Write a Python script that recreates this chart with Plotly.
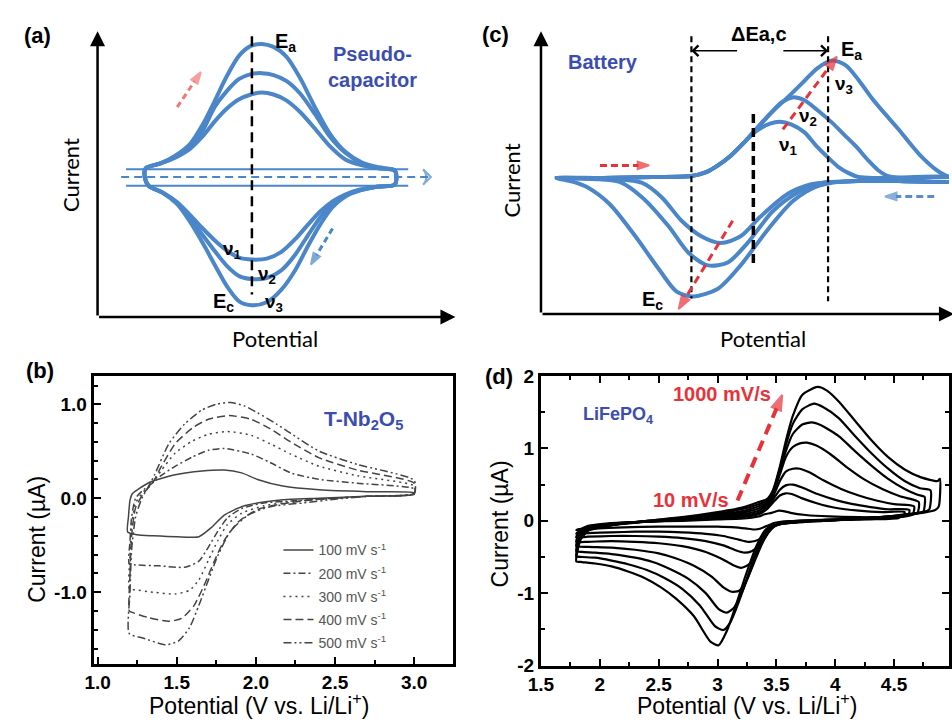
import plotly.graph_objects as go

W, H = 952, 727
def PX(px): return px / W
def PY(py): return 1 - py / H

BLUE = '#4a86c8'
TXTBLUE = '#3b4db0'
RED = '#e8323a'
PINK = '#f07878'
GREY = '#444444'
SANS = 'Liberation Sans, Arial, sans-serif'
CAL = 'Lato, Open Sans, sans-serif'

# ---------------- (a) pseudocapacitor schematic (arbitrary units) ----------------
a_up_x = [49, 64, 79, 94, 107, 119, 131, 144, 156, 167, 179, 192, 206, 221, 236, 252, 269, 286, 302]
a_up_nu3 = [9, 14, 22, 34, 54, 78, 103, 125, 135, 137, 134, 124, 102, 72, 45, 26, 15, 10, 7]
a_up_nu2 = [9, 14, 21, 31, 48, 72, 88, 101, 106, 107, 105, 99, 86, 65, 42, 25, 14, 9, 7]
a_up_nu1 = [9, 14, 20, 29, 42, 57, 70, 80, 85, 87, 85, 79, 67, 50, 32, 18, 12, 9, 7]
a_lo_x = [304, 302, 284, 266, 252, 239, 227, 214, 201, 187, 172, 157, 144, 132, 119, 107, 94, 81, 66, 52, 48]
a_lo_nu3 = [0, -8, -10, -14, -20, -31, -48, -71, -96, -116, -129, -132, -128, -113, -90, -68, -46, -28, -16, -9, 0]
a_lo_nu2 = [0, -8, -10, -14, -19, -28, -41, -60, -80, -96, -104, -105, -102, -92, -76, -60, -42, -27, -16, -9, 0]
a_lo_nu1 = [0, -8, -10, -13, -18, -25, -35, -49, -64, -77, -84, -85, -83, -76, -65, -53, -39, -26, -16, -9, 0]
a_rail_x = [29, 316]
a_rail_up = [8, 8]
a_rail_lo = [-9, -9]
a_sweep_x = [24, 339]
a_sweep_y = [0, 0]
a_peak_x = [157, 157]
a_peak_y = [145, -121]
a_red_x = [81, 105]
a_red_y = [72, 108]
a_blue_x = [239, 217]
a_blue_y = [-53, -90]

# ---------------- (c) battery schematic (arbitrary units) ----------------
c_an_base_x = [16, 63, 113, 153, 168, 180, 193, 206]
c_an_base_y = [0, 0, 1, 2, 6, 13, 23, 36]
c_an_nu1_x = [220, 233, 243, 255, 268, 280, 293, 303, 313, 323, 343, 423]
c_an_nu1_y = [49, 56, 58, 55, 47, 33, 20, 11, 5, 1, 0, 0]
c_an_nu2_x = [220, 233, 245, 256, 268, 281, 296, 308, 320, 333, 343, 353, 373, 423]
c_an_nu2_y = [51, 66, 78, 83, 80, 70, 57, 45, 33, 18, 8, 2, 0, 0]
c_an_nu3_x = [220, 236, 253, 268, 281, 296, 310, 323, 336, 350, 363, 375, 386, 400, 413, 423]
c_an_nu3_y = [52, 69, 85, 100, 113, 121, 116, 101, 83, 66, 51, 36, 23, 10, 2, 0]
c_ca_nu3_x = [423, 363, 323, 303, 280, 256, 230, 203, 180, 155, 138, 120, 96, 70, 48, 33, 16]
c_ca_nu3_y = [-3, -3, -3, -4, -9, -24, -54, -90, -114, -122, -117, -94, -60, -27, -10, -4, 0]
c_ca_nu2_x = [423, 363, 323, 303, 286, 263, 236, 210, 190, 170, 150, 130, 103, 80, 53, 16]
c_ca_nu2_y = [-3, -3, -3, -4, -5, -14, -34, -67, -87, -90, -77, -50, -20, -4, -1, 0]
c_ca_nu1_x = [423, 363, 323, 296, 273, 250, 223, 203, 183, 163, 143, 123, 103, 73, 16]
c_ca_nu1_y = [-3, -3, -3, -4, -7, -17, -40, -60, -67, -60, -44, -20, -5, -1, 0]
c_vline_x = [153, 292, 216]
c_vline_top = [146, 146, 66]
c_vline_bot = [-124, -127, -92]
c_red1_x = [246, 301]
c_red1_y = [50, 125]
c_red2_x = [195, 140]
c_red2_y = [-44, -135]
c_red3_x = [60, 110]
c_red3_y = [13, 13]
c_blue_x = [400, 350]
c_blue_y = [-19, -19]

# ---------------- (b) T-Nb2O5 CV ----------------
b_rates = ['100', '200', '300', '400', '500']
b_x_an_100 = [1.19, 1.195, 1.205, 1.22, 1.26, 1.33, 1.49, 1.66, 1.80, 1.91, 2.01, 2.17, 2.4, 2.7, 3.0]
b_y_an_100 = [-0.36, -0.2, -0.02, 0.05, 0.10, 0.17, 0.25, 0.29, 0.30, 0.27, 0.20, 0.13, 0.09, 0.07, 0.06]
b_x_ca_100 = [3.0, 2.7, 2.4, 2.22, 2.05, 1.91, 1.80, 1.72, 1.64, 1.5, 1.35, 1.25, 1.19]
b_y_ca_100 = [0.04, 0.02, 0.0, -0.01, -0.04, -0.09, -0.18, -0.31, -0.41, -0.41, -0.40, -0.39, -0.36]
b_x_an_200 = [1.20, 1.205, 1.215, 1.24, 1.29, 1.33, 1.36, 1.40, 1.49, 1.60, 1.70, 1.80, 1.97, 2.09, 2.22, 2.4, 2.64, 3.0]
b_y_an_200 = [-0.70, -0.45, -0.2, 0.0, 0.09, 0.14, 0.18, 0.24, 0.34, 0.44, 0.51, 0.53, 0.47, 0.38, 0.27, 0.20, 0.16, 0.10]
b_x_ca_200 = [3.0, 2.7, 2.4, 2.22, 2.05, 1.91, 1.82, 1.76, 1.70, 1.64, 1.55, 1.39, 1.24, 1.20]
b_y_ca_200 = [0.05, 0.02, -0.01, -0.03, -0.05, -0.11, -0.21, -0.35, -0.52, -0.67, -0.735, -0.72, -0.71, -0.70]
b_x_an_300 = [1.20, 1.205, 1.215, 1.24, 1.29, 1.33, 1.36, 1.40, 1.49, 1.60, 1.70, 1.82, 1.97, 2.09, 2.22, 2.4, 2.64, 3.0]
b_y_an_300 = [-0.96, -0.6, -0.3, -0.05, 0.07, 0.13, 0.19, 0.29, 0.48, 0.61, 0.68, 0.71, 0.67, 0.58, 0.47, 0.34, 0.24, 0.13]
b_x_ca_300 = [3.0, 2.7, 2.4, 2.22, 2.05, 1.91, 1.82, 1.76, 1.70, 1.64, 1.58, 1.49, 1.35, 1.22, 1.20]
b_y_ca_300 = [0.05, 0.02, -0.01, -0.04, -0.08, -0.16, -0.28, -0.45, -0.66, -0.87, -0.98, -1.02, -1.0, -0.97, -0.96]
b_x_an_400 = [1.20, 1.205, 1.215, 1.24, 1.29, 1.33, 1.36, 1.40, 1.49, 1.60, 1.70, 1.83, 1.97, 2.09, 2.22, 2.4, 2.64, 3.0]
b_y_an_400 = [-1.20, -0.8, -0.4, -0.1, 0.05, 0.13, 0.2, 0.33, 0.58, 0.75, 0.84, 0.88, 0.84, 0.74, 0.60, 0.43, 0.30, 0.16]
b_x_ca_400 = [3.0, 2.7, 2.4, 2.2, 2.01, 1.89, 1.80, 1.74, 1.68, 1.61, 1.53, 1.45, 1.32, 1.21, 1.20]
b_y_ca_400 = [0.05, 0.02, -0.01, -0.05, -0.12, -0.25, -0.45, -0.66, -0.90, -1.14, -1.28, -1.31, -1.27, -1.21, -1.20]
b_x_an_500 = [1.20, 1.205, 1.215, 1.24, 1.28, 1.32, 1.36, 1.45, 1.55, 1.66, 1.75, 1.84, 1.93, 2.01, 2.13, 2.22, 2.4, 2.64, 3.0]
b_y_an_500 = [-1.44, -1.0, -0.55, -0.2, 0.0, 0.12, 0.25, 0.58, 0.79, 0.94, 1.0, 1.02, 0.98, 0.91, 0.79, 0.69, 0.50, 0.36, 0.19]
b_x_ca_500 = [3.0, 2.7, 2.5, 2.3, 2.09, 1.95, 1.84, 1.76, 1.70, 1.64, 1.58, 1.51, 1.43, 1.29, 1.20]
b_y_ca_500 = [0.05, 0.02, -0.01, -0.05, -0.09, -0.18, -0.35, -0.61, -0.87, -1.14, -1.38, -1.52, -1.56, -1.49, -1.44]
b_xticks = [1.0, 1.5, 2.0, 2.5, 3.0]
b_xticktext = ['1.0', '1.5', '2.0', '2.5', '3.0']
b_yticks = [-1.0, 0.0, 1.0]
b_yticktext = ['-1.0', '0.0', '1.0']

# ---------------- (d) LiFePO4 CV (8 sweep rates, largest first) ----------------
d_an_x = [
    [1.80, 1.81, 1.84, 1.9, 2.1, 2.4, 2.7, 3.0, 3.2, 3.35, 3.42, 3.47, 3.53, 3.58, 3.64, 3.72, 3.85, 3.93, 4.03, 4.17, 4.31, 4.45, 4.59, 4.73, 4.87, 4.89],
    [1.80, 1.81, 1.84, 1.9, 2.1, 2.4, 2.7, 3.0, 3.2, 3.35, 3.42, 3.47, 3.53, 3.58, 3.64, 3.72, 3.82, 3.90, 4.03, 4.17, 4.31, 4.45, 4.59, 4.72, 4.81],
    [1.80, 1.81, 1.84, 1.9, 2.1, 2.4, 2.7, 3.0, 3.2, 3.35, 3.42, 3.47, 3.53, 3.58, 3.64, 3.72, 3.80, 3.88, 4.03, 4.17, 4.31, 4.45, 4.59, 4.70, 4.76],
    [1.80, 1.81, 1.84, 1.9, 2.1, 2.4, 2.7, 3.0, 3.2, 3.35, 3.42, 3.47, 3.53, 3.58, 3.64, 3.70, 3.76, 3.84, 3.96, 4.10, 4.25, 4.40, 4.55, 4.71],
    [1.80, 1.81, 1.84, 1.9, 2.1, 2.4, 2.7, 3.0, 3.2, 3.35, 3.42, 3.47, 3.53, 3.58, 3.64, 3.70, 3.78, 3.90, 4.05, 4.20, 4.35, 4.50, 4.67],
    [1.80, 1.81, 1.84, 1.9, 2.1, 2.4, 2.7, 3.0, 3.2, 3.35, 3.42, 3.47, 3.53, 3.58, 3.64, 3.72, 3.85, 4.00, 4.15, 4.30, 4.45, 4.63],
    [1.80, 1.81, 1.84, 1.9, 2.1, 2.4, 2.7, 3.0, 3.2, 3.35, 3.42, 3.47, 3.53, 3.58, 3.63, 3.72, 3.85, 4.00, 4.20, 4.40, 4.59],
    [1.80, 1.81, 1.84, 1.9, 2.1, 2.4, 2.7, 3.0, 3.2, 3.35, 3.40, 3.46, 3.52, 3.56, 3.62, 3.75, 3.95, 4.20, 4.40, 4.55],
]
d_an_y = [
    [-0.56, -0.42, -0.25, -0.14, -0.06, 0.0, 0.05, 0.12, 0.18, 0.26, 0.30, 0.42, 0.75, 1.10, 1.45, 1.74, 1.85, 1.80, 1.65, 1.38, 1.11, 0.88, 0.71, 0.60, 0.55, 0.58],
    [-0.49, -0.37, -0.23, -0.13, -0.06, 0.0, 0.04, 0.10, 0.16, 0.23, 0.28, 0.40, 0.72, 1.04, 1.34, 1.54, 1.62, 1.57, 1.42, 1.17, 0.93, 0.72, 0.55, 0.45, 0.42],
    [-0.42, -0.32, -0.21, -0.12, -0.06, -0.01, 0.03, 0.08, 0.13, 0.20, 0.26, 0.38, 0.68, 0.96, 1.20, 1.33, 1.36, 1.32, 1.17, 0.96, 0.76, 0.58, 0.44, 0.36, 0.33],
    [-0.35, -0.27, -0.19, -0.11, -0.05, -0.01, 0.02, 0.07, 0.11, 0.17, 0.24, 0.36, 0.64, 0.88, 1.02, 1.07, 1.08, 1.04, 0.92, 0.74, 0.57, 0.44, 0.34, 0.26],
    [-0.29, -0.23, -0.17, -0.10, -0.05, -0.01, 0.02, 0.05, 0.09, 0.14, 0.22, 0.33, 0.55, 0.68, 0.72, 0.72, 0.67, 0.56, 0.44, 0.35, 0.28, 0.23, 0.20],
    [-0.23, -0.19, -0.15, -0.09, -0.04, -0.01, 0.01, 0.04, 0.07, 0.11, 0.19, 0.29, 0.43, 0.49, 0.50, 0.46, 0.37, 0.29, 0.23, 0.19, 0.16, 0.15],
    [-0.18, -0.16, -0.13, -0.08, -0.04, -0.01, 0.01, 0.03, 0.05, 0.09, 0.16, 0.25, 0.35, 0.38, 0.37, 0.31, 0.24, 0.18, 0.14, 0.12, 0.12],
    [-0.13, -0.12, -0.11, -0.07, -0.03, -0.01, 0.0, 0.02, 0.03, 0.06, 0.09, 0.11, 0.14, 0.135, 0.11, 0.08, 0.06, 0.05, 0.05, 0.06],
]
d_ca_x = [
    [4.88, 4.85, 4.6, 4.3, 4.0, 3.7, 3.5, 3.41, 3.33, 3.24, 3.16, 3.08, 3.01, 2.94, 2.8, 2.65, 2.52, 2.38, 2.24, 2.1, 1.96, 1.85, 1.80],
    [4.80, 4.77, 4.5, 4.2, 3.9, 3.7, 3.52, 3.43, 3.35, 3.27, 3.19, 3.11, 3.05, 2.98, 2.85, 2.7, 2.55, 2.4, 2.24, 2.1, 1.96, 1.85, 1.80],
    [4.75, 4.72, 4.45, 4.1, 3.8, 3.6, 3.5, 3.44, 3.37, 3.29, 3.21, 3.14, 3.08, 3.01, 2.9, 2.75, 2.6, 2.45, 2.3, 2.1, 1.96, 1.85, 1.80],
    [4.70, 4.67, 4.4, 4.0, 3.7, 3.55, 3.46, 3.39, 3.31, 3.24, 3.18, 3.12, 3.05, 2.95, 2.8, 2.65, 2.5, 2.3, 2.1, 1.9, 1.80],
    [4.66, 4.63, 4.3, 4.0, 3.7, 3.55, 3.47, 3.41, 3.34, 3.27, 3.20, 3.13, 3.03, 2.9, 2.7, 2.5, 2.3, 2.1, 1.9, 1.80],
    [4.62, 4.59, 4.3, 4.0, 3.7, 3.56, 3.49, 3.43, 3.36, 3.29, 3.23, 3.16, 3.05, 2.9, 2.7, 2.5, 2.3, 2.1, 1.9, 1.80],
    [4.58, 4.55, 4.3, 4.0, 3.7, 3.56, 3.50, 3.44, 3.38, 3.32, 3.26, 3.18, 3.05, 2.9, 2.7, 2.5, 2.3, 2.1, 1.9, 1.80],
    [4.54, 4.3, 4.0, 3.7, 3.55, 3.48, 3.42, 3.36, 3.32, 3.26, 3.15, 3.0, 2.8, 2.5, 2.2, 1.95, 1.80],
]
d_ca_y = [
    [0.20, 0.15, 0.08, 0.04, 0.01, -0.02, -0.05, -0.12, -0.35, -0.75, -1.15, -1.52, -1.72, -1.67, -1.32, -1.08, -0.92, -0.79, -0.70, -0.63, -0.59, -0.57, -0.56],
    [0.16, 0.13, 0.07, 0.03, 0.0, -0.02, -0.05, -0.12, -0.33, -0.70, -1.08, -1.40, -1.51, -1.46, -1.17, -0.94, -0.79, -0.68, -0.60, -0.55, -0.51, -0.50, -0.49],
    [0.13, 0.11, 0.06, 0.02, 0.0, -0.03, -0.06, -0.13, -0.32, -0.65, -0.98, -1.20, -1.27, -1.22, -1.0, -0.80, -0.67, -0.57, -0.51, -0.46, -0.44, -0.43, -0.42],
    [0.11, 0.09, 0.05, 0.02, -0.01, -0.04, -0.10, -0.28, -0.58, -0.85, -0.97, -0.98, -0.92, -0.77, -0.62, -0.52, -0.45, -0.40, -0.37, -0.36, -0.35],
    [0.09, 0.07, 0.04, 0.02, 0.0, -0.03, -0.08, -0.20, -0.42, -0.60, -0.65, -0.61, -0.52, -0.43, -0.35, -0.31, -0.29, -0.28, -0.29, -0.29],
    [0.07, 0.06, 0.03, 0.01, 0.0, -0.02, -0.07, -0.17, -0.33, -0.42, -0.44, -0.41, -0.34, -0.28, -0.24, -0.22, -0.21, -0.21, -0.22, -0.23],
    [0.06, 0.05, 0.03, 0.01, 0.0, -0.02, -0.05, -0.12, -0.23, -0.28, -0.29, -0.26, -0.21, -0.18, -0.16, -0.15, -0.15, -0.16, -0.17, -0.18],
    [0.04, 0.02, 0.01, 0.0, -0.01, -0.03, -0.07, -0.11, -0.12, -0.11, -0.09, -0.08, -0.08, -0.08, -0.09, -0.11, -0.13],
]
d_arrow_x = [3.17, 3.55]
d_arrow_y = [0.28, 1.74]
d_xticks = [1.5, 2, 2.5, 3, 3.5, 4, 4.5]
d_xticktext = ['1.5', '2', '2.5', '3', '3.5', '4', '4.5']
d_yticks = [-2, -1, 0, 1, 2]
d_yticktext = ['-2', '-1', '0', '1', '2']

fig = go.Figure()

def line(x, y, ax, color, width, dash='solid', shape='linear', smoothing=1.0, name=None, legend=False, group=None):
    fig.add_trace(go.Scatter(
        x=x, y=y, mode='lines', xaxis='x' + ax, yaxis='y' + ax,
        line=dict(color=color, width=width, dash=dash, shape=shape, smoothing=smoothing),
        name=name, showlegend=legend, legendgroup=group, hoverinfo='skip'))

def arrow(x, y, ax, color, width, dash, size, symbol='arrow'):
    fig.add_trace(go.Scatter(
        x=x, y=y, mode='lines+markers', xaxis='x' + ax, yaxis='y' + ax,
        line=dict(color=color, width=width, dash=dash),
        marker=dict(symbol=symbol, size=[0, size], angleref='previous', color=color,
                    line=dict(color=color, width=[0, 2])),
        showlegend=False, hoverinfo='skip'))

# ---- (a) ----
for up, lo in [(a_up_nu1, a_lo_nu1), (a_up_nu2, a_lo_nu2), (a_up_nu3, a_lo_nu3)]:
    line(a_up_x + a_lo_x + a_up_x[:1], up + lo + up[:1], '', BLUE, 4, shape='spline', smoothing=0.8)
line(a_rail_x, a_rail_up, '', BLUE, 2)
line(a_rail_x, a_rail_lo, '', BLUE, 2)
arrow(a_sweep_x, a_sweep_y, '', BLUE, 2, '8px,5px', 11, symbol='arrow-wide-open')
line(a_peak_x, a_peak_y, '', 'black', 2.5, dash='10px,6px')
arrow(a_red_x, a_red_y, '', PINK, 3, '6px,4px', 12)
arrow(a_blue_x, a_blue_y, '', BLUE, 3, '6px,4px', 12)

# ---- (c) ----
for xs, ys, cx, cy in [(c_an_nu1_x, c_an_nu1_y, c_ca_nu1_x, c_ca_nu1_y),
                       (c_an_nu2_x, c_an_nu2_y, c_ca_nu2_x, c_ca_nu2_y),
                       (c_an_nu3_x, c_an_nu3_y, c_ca_nu3_x, c_ca_nu3_y)]:
    line(c_an_base_x + xs + cx, c_an_base_y + ys + cy, '2', BLUE, 4, shape='spline', smoothing=0.8)
for i in range(3):
    line([c_vline_x[i]] * 2, [c_vline_top[i], c_vline_bot[i]], '2', 'black',
         3.5 if i == 2 else 2.2, dash='9px,5px' if i == 2 else '6px,4px')
arrow(c_red1_x, c_red1_y, '2', RED, 3, '8px,5px', 14)
arrow(c_red2_x, c_red2_y, '2', RED, 3, '8px,5px', 14)
arrow(c_red3_x, c_red3_y, '2', RED, 3, '7px,4px', 12)
arrow(c_blue_x, c_blue_y, '2', '#5b8ccc', 3, '7px,4px', 12)

# ---- (b) ----
b_dash = ['solid', '7px,3px,2px,3px', '2px,4px', '8px,4px', '8px,3px,2px,3px,2px,3px']
b_sets = [(b_x_an_100, b_y_an_100, b_x_ca_100, b_y_ca_100),
          (b_x_an_200, b_y_an_200, b_x_ca_200, b_y_ca_200),
          (b_x_an_300, b_y_an_300, b_x_ca_300, b_y_ca_300),
          (b_x_an_400, b_y_an_400, b_x_ca_400, b_y_ca_400),
          (b_x_an_500, b_y_an_500, b_x_ca_500, b_y_ca_500)]
for i, (xa, ya, xc, yc) in enumerate(b_sets):
    line(xa + xc, ya + yc, '3', GREY, 1.5, dash=b_dash[i], shape='spline', smoothing=0.6,
         name=b_rates[i] + ' mV s<sup>-1</sup>', legend=True, group='g' + str(i))

# ---- (d) ----
for i in range(len(d_an_x)):
    line(d_an_x[i] + d_ca_x[i], d_an_y[i] + d_ca_y[i], '4', 'black', 2.2, shape='spline', smoothing=0.6)
arrow(d_arrow_x, d_arrow_y, '4', RED, 4, '11px,7px', 16)

# ---- annotations ----
ann = []
def txt(text, px, py, size, color='black', family=SANS, weight='normal', angle=0):
    ann.append(dict(text=text, x=PX(px), y=PY(py), xref='paper', yref='paper', showarrow=False,
                    font=dict(size=size, color=color, family=family, weight=weight),
                    textangle=angle, xanchor='center', yanchor='middle'))

def axarrow(x0, y0, x1, y1, ax, head=2, width=2.5, size=1.2, color='black'):
    ann.append(dict(text='', x=x1, y=y1, ax=x0, ay=y0, xref='x' + ax, yref='y' + ax,
                    axref='x' + ax, ayref='y' + ax, showarrow=True, arrowhead=head,
                    arrowsize=size, arrowwidth=width, arrowcolor=color, standoff=0, startstandoff=0))

# (a)
txt('(a)', 25, 26, 22, weight='bold')
txt('Current', 58, 170, 22, family=CAL, angle=-90)
txt('Potential', 266, 338, 22, family=CAL)
txt('E<sub>a</sub>', 277, 33, 20, weight='bold')
txt('Pseudo-<br>capacitor', 366, 59, 20, color=TXTBLUE, weight='bold')
txt('ν<sub>1</sub>', 223, 247, 19, weight='bold')
txt('ν<sub>2</sub>', 258, 273, 19, weight='bold')
txt('ν<sub>3</sub>', 265, 302, 19, weight='bold')
txt('E<sub>c</sub>', 214, 301, 20, weight='bold')
axarrow(0, -144, 0, 150, '')
axarrow(0, -144, 364, -144, '')
# (c)
txt('(c)', 491, 25, 22, weight='bold')
txt('Current', 507, 175, 22, family=CAL, angle=-90)
txt('Potential', 763, 338, 22, family=CAL)
txt('Battery', 600, 54, 20, color=TXTBLUE, weight='bold')
txt('ΔEa,c', 759, 25, 20, weight='bold')
txt('E<sub>a</sub>', 853, 42, 20, weight='bold')
txt('ν<sub>3</sub>', 845, 77, 19, weight='bold')
txt('ν<sub>2</sub>', 809, 110, 19, weight='bold')
txt('ν<sub>1</sub>', 789, 140, 19, weight='bold')
txt('E<sub>c</sub>', 650, 299, 20, weight='bold')
axarrow(0, -140, 0, 151, '2')
axarrow(0, -140, 420, -140, '2')
axarrow(201, 131, 153, 131, '2', head=4, width=1.6, size=1.3)
axarrow(245, 131, 292, 131, '2', head=4, width=1.6, size=1.3)
# (b)
txt('(b)', 27, 371, 22, weight='bold')
txt('Current (µA)', 25, 545, 23, angle=-90)
txt('Potential (V vs. Li/Li<sup>+</sup>)', 250, 715, 23)
txt('T-Nb<sub>2</sub>O<sub>5</sub>', 356, 422, 21, color=TXTBLUE, weight='bold')
# (d)
txt('(d)', 494, 377, 22, weight='bold')
txt('Current (µA)', 495, 529, 23, angle=-90)
txt('Potential (V vs. Li/Li<sup>+</sup>)', 747, 715, 23)
txt('LiFePO<sub>4</sub>', 615, 418, 18, color=TXTBLUE, weight='bold')
txt('1000 mV/s', 721, 395, 20, color=RED, weight='bold')
txt('10 mV/s', 690, 505, 20, color=RED, weight='bold')

hidden = dict(visible=False, fixedrange=True)
tickfont = dict(family=SANS, size=19, color='black', weight='bold')
frame = dict(showline=True, linecolor='black', linewidth=3, ticks='inside', tickcolor='black',
             tickwidth=1.5, ticklen=7, showgrid=False, zeroline=False, tickfont=tickfont)

fig.update_layout(
    width=W, height=H, margin=dict(l=0, r=0, t=0, b=0),
    paper_bgcolor='white', plot_bgcolor='white',
    xaxis=dict(domain=[PX(76), PX(458)], range=[-10, 372], anchor='y', **hidden),
    yaxis=dict(domain=[PY(326), PY(15)], range=[-154, 157], anchor='x', **hidden),
    xaxis2=dict(domain=[PX(527), 1.0], range=[-10, 415], anchor='y2', **hidden),
    yaxis2=dict(domain=[PY(326), PY(15)], range=[-153, 158], anchor='x2', **hidden),
    xaxis3=dict(domain=[PX(82), PX(448)], range=[0.975, 3.248], anchor='y3', mirror=True,
                tickvals=b_xticks, ticktext=b_xticktext,
                minor=dict(ticks='inside', dtick=0.25, tick0=1.0, ticklen=4, tickcolor='black'), **frame),
    yaxis3=dict(domain=[PY(673), PY(377)], range=[-1.76, 1.30], anchor='x3', mirror=True,
                tickvals=b_yticks, ticktext=b_yticktext,
                minor=dict(ticks='inside', dtick=0.2, tick0=0, ticklen=4, tickcolor='black'), **frame),
    xaxis4=dict(domain=[PX(537), 1.0], range=[1.5, 4.967], anchor='y4', mirror='allticks',
                tickvals=d_xticks, ticktext=d_xticktext,
                minor=dict(ticks='inside', dtick=0.25, tick0=1.5, ticklen=4, tickcolor='black'), **frame),
    yaxis4=dict(domain=[PY(675), PY(377)], range=[-2, 2], anchor='x4', mirror='allticks',
                tickvals=d_yticks, ticktext=d_yticktext,
                minor=dict(ticks='inside', dtick=0.5, tick0=0, ticklen=4, tickcolor='black'), **frame),
    legend=dict(x=PX(270), y=PY(540), xanchor='left', yanchor='top', bgcolor='rgba(0,0,0,0)',
                font=dict(family=SANS, size=14, color='#555'), tracegroupgap=2, itemwidth=30),
    annotations=ann,
)

fig.write_html('out.html')
